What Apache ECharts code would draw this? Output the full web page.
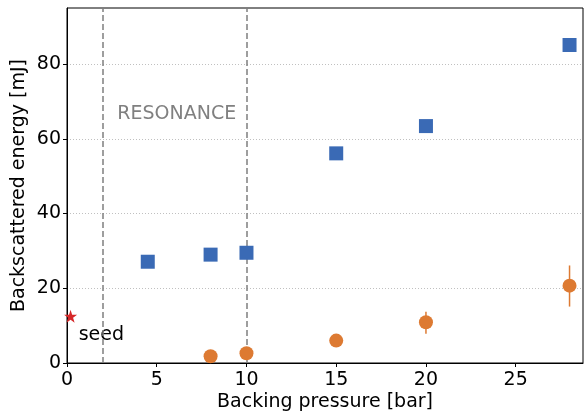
<!DOCTYPE html>
<html><head><meta charset="utf-8">
<script src="https://cdn.jsdelivr.net/npm/echarts@6/dist/echarts.min.js"></script>
<style>html,body{margin:0;padding:0;background:#fff}#c{width:584px;height:415px}</style>
</head><body><div id="c"></div>
<script>
// Data
const squarePressure = [4.5, 8, 10, 15, 20, 28];
const squareEnergy = [27.1, 29.0, 29.5, 56.1, 63.4, 85.1];
const circlePressure = [8, 10, 15, 20, 28];
const circleEnergy = [1.8, 2.6, 6.0, 10.9, 20.7];
const circleErrLow = [1.3, 2.0, 5.3, 7.8, 15.1];
const circleErrHigh = [2.3, 3.2, 6.7, 13.7, 26.1];
const seedPoint = [0.2, 12.5];
const resonanceLines = [2, 10];
const xTicks = [0, 5, 10, 15, 20, 25];
const yTicks = [0, 20, 40, 60, 80];

const font = 'DejaVu Sans';
const chart = echarts.init(document.getElementById('c'), null, {renderer: 'canvas'});
chart.setOption({
  animation: false,
  grid: {left: 67, right: 1, top: 8, bottom: 52, show: true, borderColor: '#000', borderWidth: 1,
    containLabel: false, outerBoundsMode: 'none'},
  xAxis: {
    type: 'value', min: 0, max: 28.75, interval: 5,
    name: 'Backing pressure [bar]', nameLocation: 'middle', nameGap: 30, nameMoveOverlap: false,
    nameTextStyle: {fontFamily: font, fontSize: 19, color: '#000'},
    axisLine: {show: true, onZero: false, lineStyle: {color: '#000', width: 1}},
    axisTick: {show: true, length: 4, lineStyle: {color: '#000'}, customValues: xTicks},
    axisLabel: {fontFamily: font, fontSize: 19, color: '#000', margin: 8, customValues: xTicks},
    splitLine: {show: false}
  },
  yAxis: {
    type: 'value', min: 0, max: 95, interval: 20,
    name: 'Backscattered energy [mJ]', nameLocation: 'middle', nameGap: 38, nameMoveOverlap: false,
    nameTextStyle: {fontFamily: font, fontSize: 19, color: '#000'},
    axisLine: {show: true, lineStyle: {color: '#000', width: 1}},
    axisTick: {show: true, length: 4, lineStyle: {color: '#000'}, customValues: yTicks},
    axisLabel: {fontFamily: font, fontSize: 19, color: '#000', margin: 6, customValues: yTicks},
    splitLine: {show: true, lineStyle: {color: '#b0b0b0', type: [1, 2], width: 0.8}}
  },
  series: [
    {
      type: 'line', data: [], silent: true,
      markLine: {
        symbol: 'none', silent: true, label: {show: false},
        lineStyle: {color: '#7f7f7f', type: [6, 3], width: 1.5, opacity: 1},
        data: resonanceLines.map(x => ({xAxis: x}))
      }
    },
    {
      type: 'scatter', symbol: 'rect', symbolSize: 14, z: 5,
      itemStyle: {color: '#3a6ab5', opacity: 1},
      data: squarePressure.map((x, i) => [x, squareEnergy[i]])
    },
    {
      type: 'custom', z: 3,
      renderItem: (params, api) => {
        const p1 = api.coord([api.value(0), api.value(1)]);
        const p2 = api.coord([api.value(0), api.value(2)]);
        return {type: 'line', shape: {x1: p1[0], y1: p1[1], x2: p2[0], y2: p2[1]},
          style: {stroke: '#dd7a32', lineWidth: 1.5}};
      },
      data: circlePressure.map((x, i) => [x, circleErrLow[i], circleErrHigh[i]])
    },
    {
      type: 'scatter', symbol: 'circle', symbolSize: 14, z: 5,
      itemStyle: {color: '#dd7a32', opacity: 1},
      data: circlePressure.map((x, i) => [x, circleEnergy[i]])
    },
    {
      type: 'scatter', z: 5,
      symbol: 'path://M0,-10 L2.245,-3.09 L9.51,-3.09 L3.633,1.18 L5.878,8.09 L0,3.82 L-5.878,8.09 L-3.633,1.18 L-9.51,-3.09 L-2.245,-3.09 Z',
      symbolSize: 13, itemStyle: {color: '#d62728', opacity: 1},
      data: [seedPoint]
    },
    {
      type: 'scatter', symbolSize: 0, silent: true, itemStyle: {opacity: 1},
      data: [[0.65, 7.6]],
      label: {show: true, position: 'right', distance: 0, formatter: 'seed',
        fontFamily: font, fontSize: 19, color: '#000'}
    },
    {
      type: 'scatter', symbolSize: 0, silent: true, itemStyle: {opacity: 1},
      data: [[2.8, 66.5]],
      label: {show: true, position: 'right', distance: 0, formatter: 'RESONANCE',
        fontFamily: font, fontSize: 19, color: '#808080'}
    }
  ]
});
</script>
</body></html>
